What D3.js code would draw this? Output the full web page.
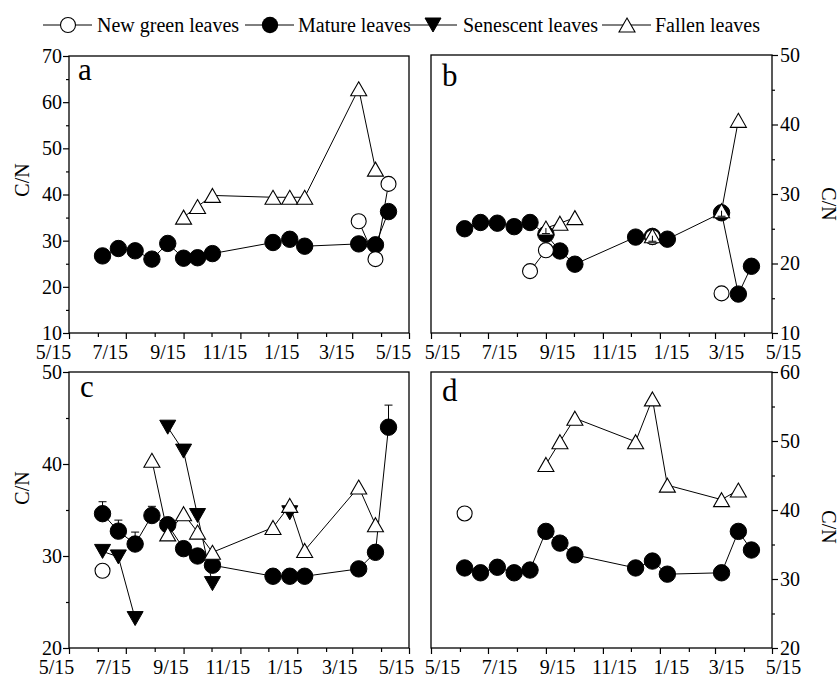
<!DOCTYPE html>
<html><head><meta charset="utf-8">
<script src="https://cdn.jsdelivr.net/npm/d3@7"></script>
<style>
body{margin:0;background:#fff}
svg{display:block}
text{font-family:"Liberation Serif","Times New Roman",serif;fill:#000}
</style>
</head><body>
<svg id="chart" width="839" height="678"></svg>
<script>
// ---------------- DATA ----------------
const sampleDates = ["2006-06-20","2006-07-07","2006-07-25","2006-08-12","2006-08-29","2006-09-15","2006-09-30",
  "2006-10-16","2006-12-20","2007-01-07","2007-01-23","2007-03-22","2007-04-09","2007-04-23"];
const xDomain = ["2006-05-15","2007-05-15"];
const monthTickDates = ["2006-05-15","2006-06-15","2006-07-15","2006-08-15","2006-09-15","2006-10-15","2006-11-15",
  "2006-12-15","2007-01-15","2007-02-15","2007-03-15","2007-04-15","2007-05-15"];
const xTickLabels = ["5/15","7/15","9/15","11/15","1/15","3/15","5/15"];
const seriesNames = ["New green leaves","Mature leaves","Senescent leaves","Fallen leaves"];
const panelLetters = ["a","b","c","d"];
const yTitle = "C/N";

// panel a
const aYTicks = [10,20,30,40,50,60,70];
const aMature = [26.7,28.3,27.8,26.0,29.4,26.2,26.3,27.2,29.6,30.3,28.8,29.3,29.1,36.3];
const aNew    = [null,null,null,null,null,null,null,null,null,null,null,34.2,26.0,42.3];
const aFallen = [null,null,null,null,null,35.1,37.4,39.8,39.4,39.4,39.4,62.9,45.5,null];
// panel b
const bYTicks = [10,20,30,40,50];
const bMature = [25.0,25.9,25.8,25.3,25.9,24.2,21.8,19.9,23.8,23.9,23.5,27.3,15.6,19.6];
const bNew    = [null,null,null,null,18.9,21.9,null,null,null,23.8,null,15.7,null,null];
const bFallen = [null,null,null,null,null,25.1,25.8,26.6,null,24.0,null,27.6,40.6,null];
const bFallenErrLow = [0,0,0,0,0,0.8,0,0,0,0.8,0,0.8,0,0];
// panel c
const cYTicks = [20,30,40,50];
const cMature = [34.6,32.7,31.3,34.4,33.4,30.8,30.0,29.0,27.8,27.8,27.8,28.6,30.4,44.0];
const cMatureErrUp = [1.3,1.2,1.3,1.0,0,0,0,0,0,0.6,0,0,0,2.4];
const cNew    = [28.4,null,null,null,null,null,null,null,null,null,null,null,null,null];
const cSenescent = [30.5,29.9,23.2,null,44.0,41.4,34.4,27.0,null,34.7,null,null,null,null];
const cFallen = [null,null,null,40.4,32.4,34.6,32.6,30.4,33.1,35.5,30.6,37.5,33.4,null];
// panel d
const dYTicks = [20,30,40,50,60];
const dMature = [31.6,30.9,31.7,30.9,31.3,36.9,35.2,33.5,31.6,32.6,30.7,30.9,36.9,34.2];
const dNew    = [39.5,null,null,null,null,null,null,null,null,null,null,null,null,null];
const dFallen = [null,null,null,null,null,46.6,49.9,53.3,49.9,56.1,43.6,41.5,42.9,null];

// ---------------- LAYOUT ----------------
const parse = d3.timeParse("%Y-%m-%d");
const svg = d3.select("#chart");
const FONT = 20;

const panels = [
  {letter:panelLetters[0], left:69, right:409, top:56, bottom:333, yTicks:aYTicks, side:"left",
   lx:78, ly:80, labShift:-16, cn:[29,180],
   series:{newg:aNew, mature:aMature, sen:null, fallen:aFallen}},
  {letter:panelLetters[1], left:431, right:772, top:55, bottom:333, yTicks:bYTicks, side:"right",
   lx:442, ly:86, labShift:11, cn:[822,204],
   series:{newg:bNew, mature:bMature, sen:null, fallen:bFallen}, fallenErrLow:bFallenErrLow},
  {letter:panelLetters[2], left:69, right:409, top:372, bottom:648, yTicks:cYTicks, side:"left",
   lx:80, ly:397, labShift:-13, cn:[29,488],
   series:{newg:cNew, mature:cMature, sen:cSenescent, fallen:cFallen}, matureErrUp:cMatureErrUp},
  {letter:panelLetters[3], left:431, right:772, top:372, bottom:648, yTicks:dYTicks, side:"right",
   lx:442, ly:401, labShift:11, cn:[822,527],
   series:{newg:dNew, mature:dMature, sen:null, fallen:dFallen}}
];

const triUp = "M0,-7L8,7L-8,7Z";
const triDown = "M0,7L8,-7L-8,-7Z";

function styleAxisText(g){
  g.attr("font-family",'"Liberation Serif","Times New Roman",serif').attr("font-size",FONT);
  g.selectAll(".domain").remove();
  g.selectAll("line").attr("stroke","#000").attr("stroke-width",1.2);
  g.selectAll("text").attr("fill","#000");
}

panels.forEach(p => {
  const x = d3.scaleTime().domain(xDomain.map(parse)).range([p.left,p.right]);
  const yd = [p.yTicks[0], p.yTicks[p.yTicks.length-1]];
  const y = d3.scaleLinear().domain(yd).range([p.bottom,p.top]);
  const g = svg.append("g");

  const allMonths = monthTickDates.map(parse);
  const labeled = allMonths.filter((d,i)=>i%2===0);
  const unlabeled = allMonths.filter((d,i)=>i%2===1);

  // x axis minor
  g.append("g").attr("transform",`translate(0,${p.bottom})`)
    .call(d3.axisBottom(x).tickValues(unlabeled).tickSize(4).tickSizeOuter(0).tickFormat(""))
    .call(styleAxisText);
  // x axis major
  const xa = g.append("g").attr("transform",`translate(0,${p.bottom})`)
    .call(d3.axisBottom(x).tickValues(labeled).tickSize(6).tickSizeOuter(0).tickFormat((d,i)=>xTickLabels[i]))
    .call(styleAxisText);
  xa.selectAll("text").attr("y",26).attr("dy",null).attr("dx",p.labShift);

  // y axis
  const minor = p.yTicks.slice(0,-1).map((v,i)=>(v+p.yTicks[i+1])/2);
  if (p.side==="left"){
    g.append("g").attr("transform",`translate(${p.left},0)`)
      .call(d3.axisLeft(y).tickValues(minor).tickSize(3).tickSizeOuter(0).tickFormat(""))
      .call(styleAxisText);
    g.append("g").attr("transform",`translate(${p.left},0)`)
      .call(d3.axisLeft(y).tickValues(p.yTicks).tickSize(6).tickPadding(1).tickSizeOuter(0).tickFormat(d3.format("d")))
      .call(styleAxisText);
    g.append("text").attr("transform",`translate(${p.cn[0]},${p.cn[1]}) rotate(-90)`)
      .attr("text-anchor","middle").attr("font-size",FONT).text(yTitle);
  } else {
    g.append("g").attr("transform",`translate(${p.right},0)`)
      .call(d3.axisRight(y).tickValues(minor).tickSize(3).tickSizeOuter(0).tickFormat(""))
      .call(styleAxisText);
    g.append("g").attr("transform",`translate(${p.right},0)`)
      .call(d3.axisRight(y).tickValues(p.yTicks).tickSize(6).tickPadding(2).tickSizeOuter(0).tickFormat(d3.format("d")))
      .call(styleAxisText);
    g.append("text").attr("transform",`translate(${p.cn[0]},${p.cn[1]}) rotate(90)`)
      .attr("text-anchor","middle").attr("font-size",FONT).text(yTitle);
  }

  // frame
  g.append("rect").attr("x",p.left).attr("y",p.top).attr("width",p.right-p.left).attr("height",p.bottom-p.top)
    .attr("fill","none").attr("stroke","#000").attr("stroke-width",1.3);

  // panel letter
  g.append("text").attr("x",p.lx).attr("y",p.ly).attr("font-size",31).text(p.letter);

  const toPts = arr => arr ? arr.map((v,i)=>({d:parse(sampleDates[i]), v, i})) : [];
  const line = d3.line().defined(d=>d.v!=null).x(d=>x(d.d)).y(d=>y(d.v));
  const order = ["mature","newg","sen","fallen"];
  // lines
  order.forEach(k=>{
    const pts = toPts(p.series[k]);
    if(!pts.length) return;
    g.append("path").attr("d",line(pts)).attr("fill","none").attr("stroke","#000").attr("stroke-width",1);
  });
  // error bars (upper) for mature
  if (p.matureErrUp){
    const pts = toPts(p.series.mature).filter(d=>d.v!=null && p.matureErrUp[d.i]>0);
    pts.forEach(d=>{
      const e = p.matureErrUp[d.i];
      g.append("line").attr("x1",x(d.d)).attr("x2",x(d.d)).attr("y1",y(d.v)).attr("y2",y(d.v+e)).attr("stroke","#000").attr("stroke-width",1);
      g.append("line").attr("x1",x(d.d)-4).attr("x2",x(d.d)+4).attr("y1",y(d.v+e)).attr("y2",y(d.v+e)).attr("stroke","#000").attr("stroke-width",1);
    });
  }
  // markers
  order.forEach(k=>{
    const pts = toPts(p.series[k]).filter(d=>d.v!=null);
    if(!pts.length) return;
    if (k==="mature"){
      g.selectAll(null).data(pts).join("circle").attr("cx",d=>x(d.d)).attr("cy",d=>y(d.v)).attr("r",8.2)
        .attr("fill","#000").attr("stroke","#000");
    } else if (k==="newg"){
      g.selectAll(null).data(pts).join("circle").attr("cx",d=>x(d.d)).attr("cy",d=>y(d.v)).attr("r",7.5)
        .attr("fill","#fff").attr("stroke","#000").attr("stroke-width",1.1);
    } else if (k==="sen"){
      g.selectAll(null).data(pts).join("path").attr("d",triDown)
        .attr("transform",d=>`translate(${x(d.d)},${y(d.v)})`).attr("fill","#000").attr("stroke","#000");
    } else {
      g.selectAll(null).data(pts).join("path").attr("d",triUp)
        .attr("transform",d=>`translate(${x(d.d)},${y(d.v)})`).attr("fill","#fff").attr("stroke","#000").attr("stroke-width",1.1);
    }
  });
  // lower error bars for fallen (drawn over markers)
  if (p.fallenErrLow){
    const pts = toPts(p.series.fallen).filter(d=>d.v!=null && p.fallenErrLow[d.i]>0);
    pts.forEach(d=>{
      const e = p.fallenErrLow[d.i];
      g.append("line").attr("x1",x(d.d)).attr("x2",x(d.d)).attr("y1",y(d.v)).attr("y2",y(d.v-e)).attr("stroke","#000").attr("stroke-width",1);
      g.append("line").attr("x1",x(d.d)-4).attr("x2",x(d.d)+4).attr("y1",y(d.v-e)).attr("y2",y(d.v-e)).attr("stroke","#000").attr("stroke-width",1);
    });
  }
});

// ---------------- LEGEND ----------------
const legendItems = [
  {name:seriesNames[0], cx:68, tx:97, kind:"newg"},
  {name:seriesNames[1], cx:270, tx:298, kind:"mature"},
  {name:seriesNames[2], cx:433, tx:463, kind:"sen"},
  {name:seriesNames[3], cx:627, tx:655, kind:"fallen"}
];
const lg = svg.append("g");
const LY = 25;
legendItems.forEach(it=>{
  lg.append("line").attr("x1",it.cx-25).attr("x2",it.cx+24).attr("y1",LY).attr("y2",LY).attr("stroke","#000").attr("stroke-width",1);
  if (it.kind==="newg") lg.append("circle").attr("cx",it.cx).attr("cy",LY).attr("r",7.5).attr("fill","#fff").attr("stroke","#000").attr("stroke-width",1.1);
  if (it.kind==="mature") lg.append("circle").attr("cx",it.cx).attr("cy",LY).attr("r",8.2).attr("fill","#000");
  if (it.kind==="sen") lg.append("path").attr("d",triDown).attr("transform",`translate(${it.cx},${LY})`).attr("fill","#000").attr("stroke","#000");
  if (it.kind==="fallen") lg.append("path").attr("d",triUp).attr("transform",`translate(${it.cx},${LY})`).attr("fill","#fff").attr("stroke","#000").attr("stroke-width",1.1);
  lg.append("text").attr("x",it.tx).attr("y",32).attr("font-size",FONT).text(it.name);
});
</script>
</body></html>
